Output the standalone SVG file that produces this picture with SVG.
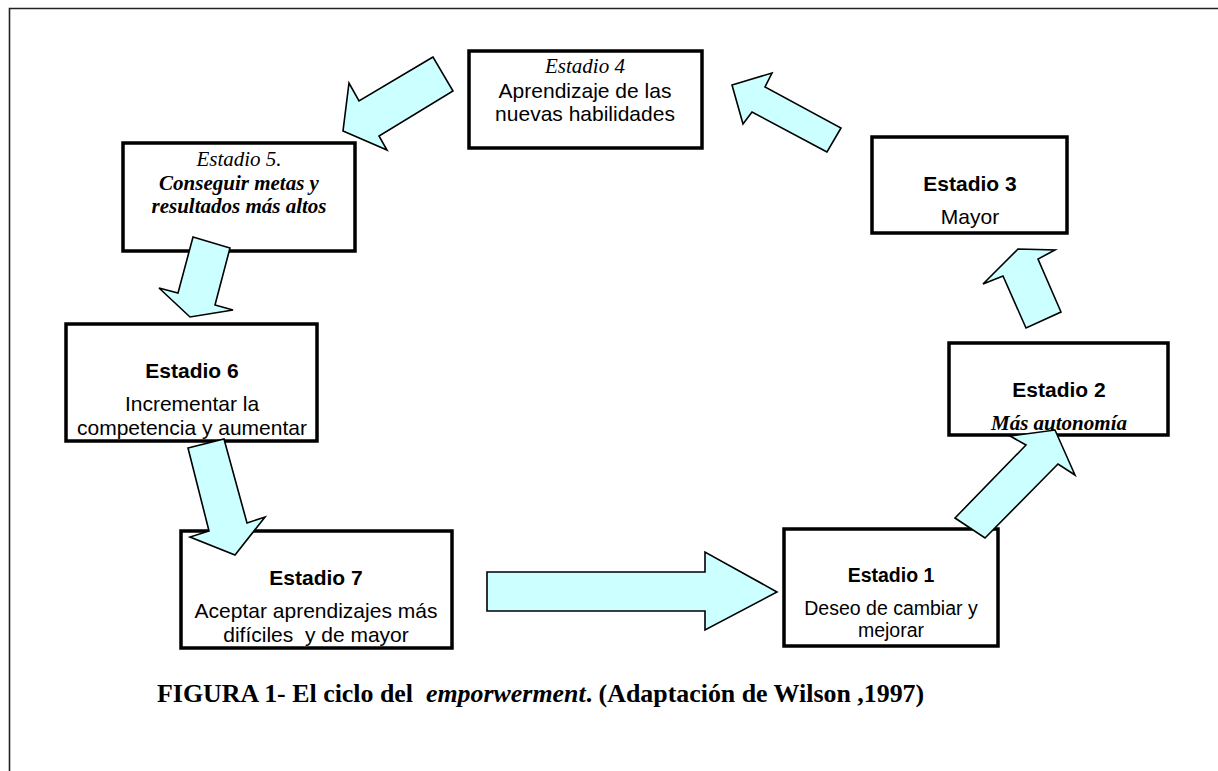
<svg xmlns="http://www.w3.org/2000/svg" width="1218" height="771" viewBox="0 0 1218 771">
<style>
.box{fill:#fff;stroke:#000;stroke-width:3.5}
.arr{fill:#ccffff;stroke:#000;stroke-width:1.6;stroke-linejoin:miter}
.sans{font-family:"Liberation Sans",Arial,sans-serif;font-size:21px;fill:#000;text-anchor:middle}
.b{font-weight:bold}
.serif{font-family:"Liberation Serif","Times New Roman",serif;font-size:21px;fill:#000;text-anchor:middle}
.i{font-style:italic}
</style>
<rect width="1218" height="771" fill="#fff"/>
<path d="M9.5,771 V8.5 H1218" fill="none" stroke="#222" stroke-width="1.6"/>

<g id="node-estadio4">
<rect class="box" x="469" y="51" width="233" height="97"/>
<text class="serif i" x="585" y="73">Estadio 4</text>
<text class="sans" x="585" y="98">Aprendizaje de las</text>
<text class="sans" x="585" y="121">nuevas habilidades</text>
</g>
<g id="node-estadio5">
<rect class="box" x="123" y="143" width="232" height="108"/>
<text class="serif i" x="239" y="166">Estadio 5.</text>
<text class="serif i b" x="239" y="190">Conseguir metas y</text>
<text class="serif i b" x="239" y="213">resultados más altos</text>
</g>
<g id="node-estadio3">
<rect class="box" x="872" y="137" width="195" height="96"/>
<text class="sans b" x="970" y="191">Estadio 3</text>
<text class="sans" x="970" y="224">Mayor</text>
</g>
<g id="node-estadio6">
<rect class="box" x="66" y="324" width="251" height="117"/>
<text class="sans b" x="192" y="378">Estadio 6</text>
<text class="sans" x="192" y="411">Incrementar la</text>
<text class="sans" x="192" y="435">competencia y aumentar</text>
</g>
<g id="node-estadio2">
<rect class="box" x="949" y="343" width="219" height="92"/>
<text class="sans b" x="1059" y="397">Estadio 2</text>
<text class="serif i b" x="1059" y="430">Más autonomía</text>
</g>
<g id="node-estadio7">
<rect class="box" x="181" y="531" width="271" height="117"/>
<text class="sans b" x="316" y="585">Estadio 7</text>
<text class="sans" x="316" y="618">Aceptar aprendizajes más</text>
<text class="sans" x="316" y="642" xml:space="preserve">difíciles  y de mayor</text>
</g>
<g id="node-estadio1">
<rect class="box" x="784" y="529" width="214" height="117"/>
<text class="sans b" x="891" y="582" style="font-size:19.5px">Estadio 1</text>
<text class="sans" x="891" y="615" style="font-size:19.5px">Deseo de cambiar y</text>
<text class="sans" x="891" y="637" style="font-size:19.5px">mejorar</text>
</g>

<g id="connectors">
<polygon id="a7-1" class="arr" points="487,572 705,572 705,552 777,592 705,630 705,611 487,611"/>
<polygon id="a1-2" class="arr" points="955,518 1026,445 1010,436 1055,430 1075,475 1058,464 985,538"/>
<polygon id="a2-3" class="arr" points="1026,328 1003,276 983,284 1018,249 1055,250 1038,259 1061,312"/>
<polygon id="a3-4" class="arr" points="827,152 752,112 743,124 732,85 772,73 765,87 841,128"/>
<polygon id="a4-5" class="arr" points="433,57 359,101 349,83 343,131 387,150 379,136 453,91"/>
<polygon id="a5-6" class="arr" points="193,237 230,248 215,305 233,310 190,317 159,288 178,293"/>
<polygon id="a6-7" class="arr" points="188,448 224,439 247,523 265,517 235,555 190,537 209,531"/>
</g>

<g id="caption">
<text x="157" y="702" xml:space="preserve" style="font-family:'Liberation Serif','Times New Roman',serif;font-size:25.9px;font-weight:bold;fill:#000">FIGURA 1- El ciclo del  <tspan font-style="italic">emporwerment</tspan>. (Adaptación de Wilson ,1997)</text>
</g>
</svg>
